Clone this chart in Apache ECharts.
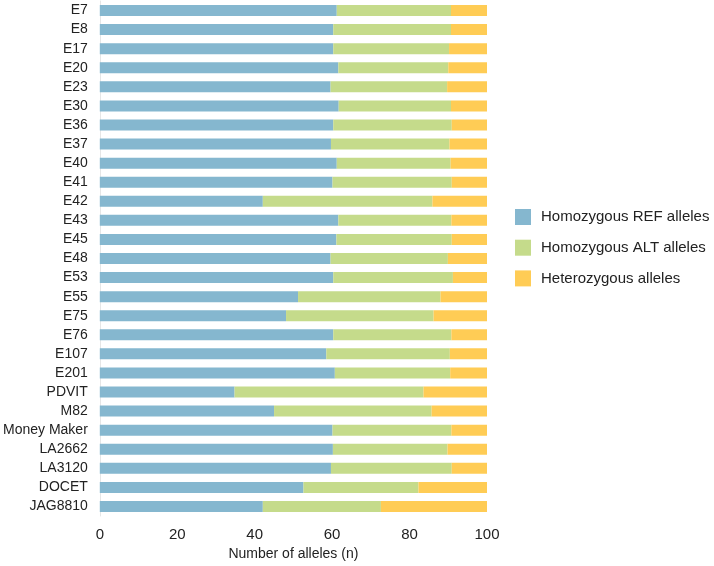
<!DOCTYPE html>
<html>
<head>
<meta charset="utf-8">
<script src="https://cdn.jsdelivr.net/npm/echarts@6/dist/echarts.min.js"></script>
<style>
  html, body { margin: 0; padding: 0; background: #fff; }
  #chart-container { width: 714px; height: 566px; }
</style>
</head>
<body>
<div id="chart-container"></div>
<script>
var categories = ['E7', 'E8', 'E17', 'E20', 'E23', 'E30', 'E36', 'E37', 'E40', 'E41',
    'E42', 'E43', 'E45', 'E48', 'E53', 'E55', 'E75', 'E76', 'E107', 'E201',
    'PDVIT', 'M82', 'Money Maker', 'LA2662', 'LA3120', 'DOCET', 'JAG8810'];

var refAlleles = [61.2, 60.3, 60.3, 61.6, 59.6, 61.7, 60.3, 59.7, 61.2, 60.1,
    42.1, 61.6, 61.1, 59.6, 60.3, 51.2, 48.1, 60.3, 58.5, 60.7,
    34.8, 45.0, 60.1, 60.2, 59.7, 52.6, 42.1];

var altAlleles = [29.5, 30.4, 29.9, 28.4, 30.1, 29.0, 30.6, 30.6, 29.4, 30.8,
    43.8, 29.2, 29.8, 30.3, 30.9, 36.8, 38.1, 30.5, 31.9, 29.8,
    48.8, 40.7, 30.7, 29.6, 31.2, 29.7, 30.5];

var hetAlleles = [9.3, 9.3, 9.8, 10.0, 10.3, 9.3, 9.1, 9.7, 9.4, 9.1,
    14.1, 9.2, 9.1, 10.1, 8.8, 12.0, 13.8, 9.2, 9.6, 9.5,
    16.4, 14.3, 9.2, 10.2, 9.1, 17.7, 27.4];

var xTicks = [0, 20, 40, 60, 80, 100];

var dom = document.getElementById('chart-container');
var myChart = echarts.init(dom, null, { renderer: 'canvas' });

var font = 'Liberation Sans, Arial, sans-serif';

function barSeries(name, data, color) {
    return {
        name: name,
        type: 'bar',
        stack: 'total',
        barWidth: 11,
        data: data,
        itemStyle: { color: color },
        emphasis: { disabled: true }
    };
}

var option = {
    animation: false,
    textStyle: { fontFamily: font },
    legend: {
        orient: 'vertical',
        left: 510,
        top: 204,
        itemWidth: 16,
        itemHeight: 16,
        itemGap: 14.7,
        icon: 'rect',
        textStyle: { fontSize: 15, color: '#222', fontFamily: font, padding: [0, 0, 0, 5] },
        data: ['Homozygous REF alleles', 'Homozygous ALT alleles', 'Heterozygous alleles']
    },
    grid: {
        left: 98,
        right: 227,
        top: 1,
        bottom: 47
    },
    xAxis: {
        type: 'value',
        min: xTicks[0],
        max: xTicks[xTicks.length - 1],
        interval: 20,
        name: 'Number of alleles (n)',
        nameLocation: 'middle',
        nameGap: 31,
        nameTextStyle: { fontSize: 14, color: '#222', fontFamily: font },
        axisLine: { show: false },
        axisTick: { show: false },
        splitLine: { show: false },
        axisLabel: { fontSize: 15, color: '#222', margin: 11, fontFamily: font }
    },
    yAxis: {
        type: 'category',
        inverse: true,
        data: categories,
        axisLine: { show: true, lineStyle: { color: '#e6e6e6', width: 1 } },
        axisTick: { show: false },
        axisLabel: { fontSize: 14, color: '#222', margin: 12, fontFamily: font, padding: [3, 0, 0, 0] }
    },
    series: [
        barSeries('Homozygous REF alleles', refAlleles, '#85b7cf'),
        barSeries('Homozygous ALT alleles', altAlleles, '#c5db8b'),
        barSeries('Heterozygous alleles', hetAlleles, '#ffcc55')
    ]
};

myChart.setOption(option);
</script>
</body>
</html>
